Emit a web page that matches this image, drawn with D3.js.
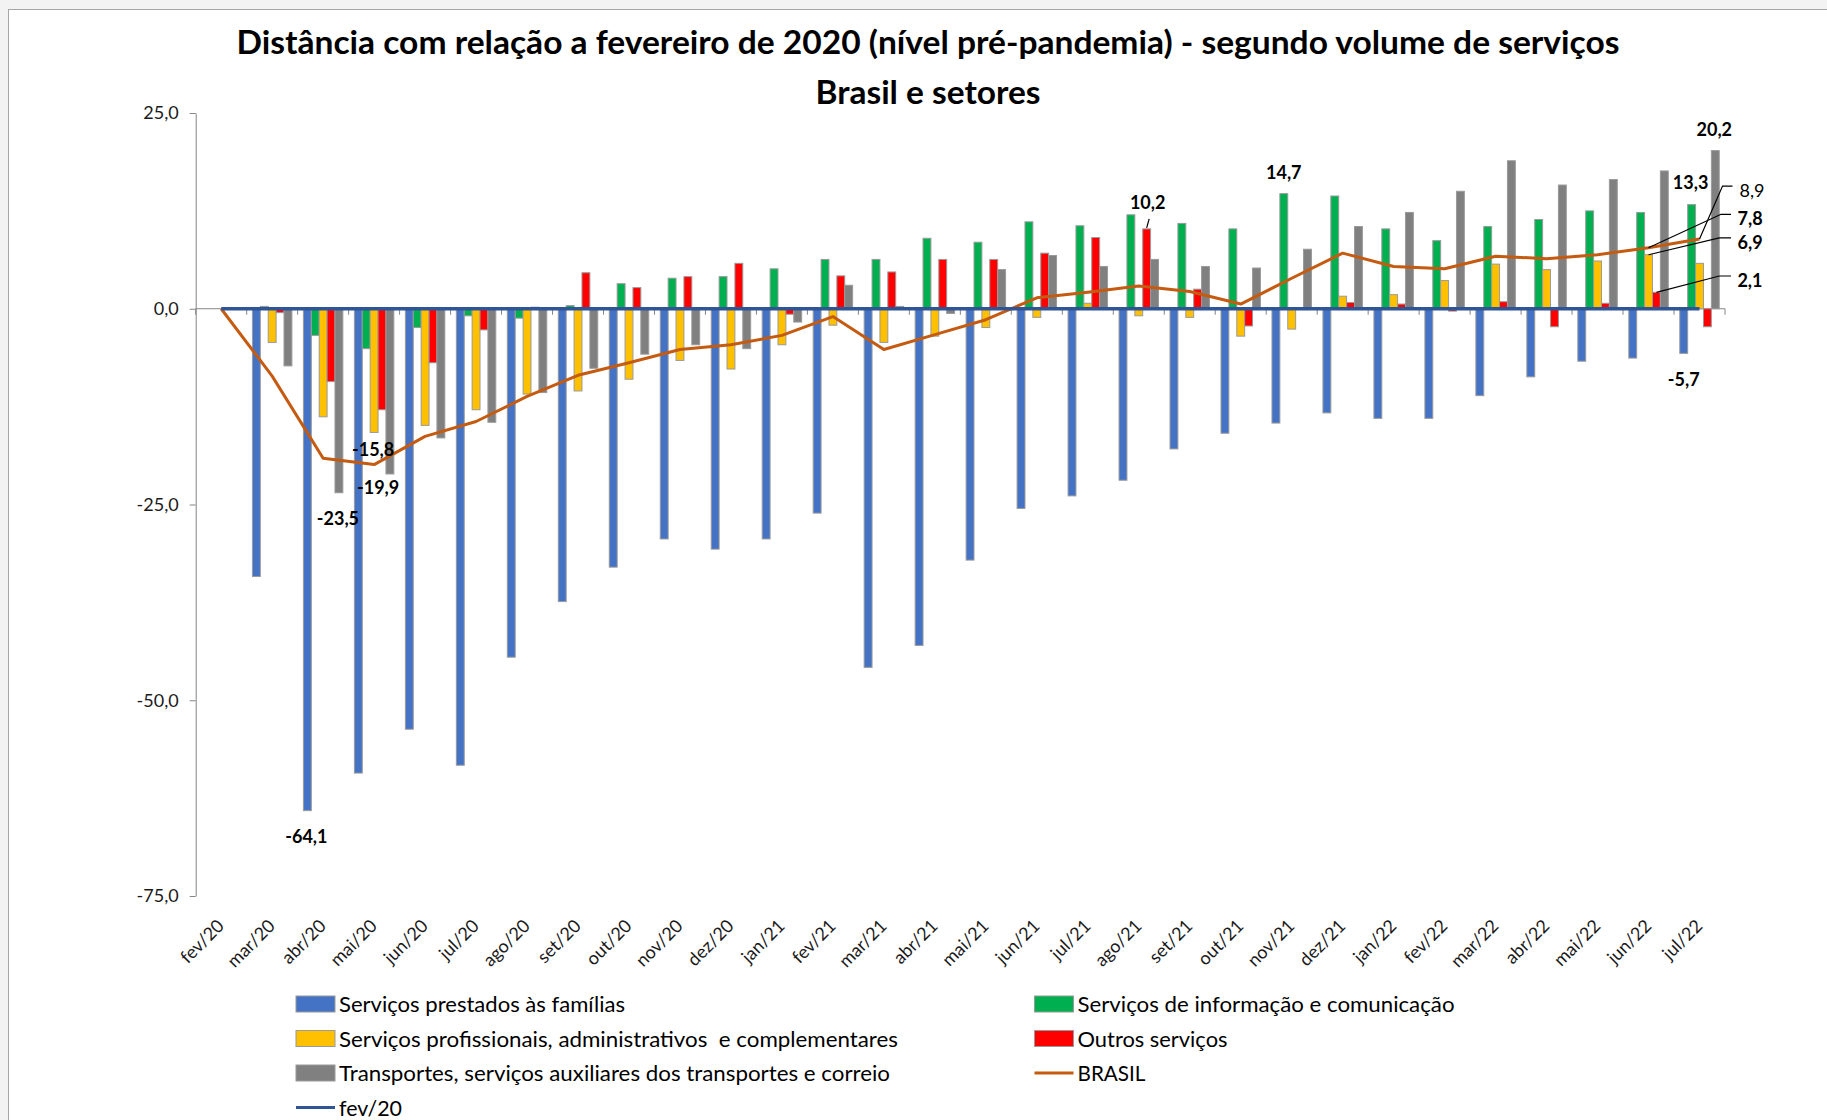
<!DOCTYPE html>
<html>
<head>
<meta charset="utf-8">
<script src="https://cdn.jsdelivr.net/npm/d3@7"></script>
<style>
  body { margin: 0; background: #fff; }
  text { font-family: Lato, "Open Sans", sans-serif; }
</style>
</head>
<body>
<div id="chart"></div>
<script>
// Data
var months = ["fev/20", "mar/20", "abr/20", "mai/20", "jun/20", "jul/20", "ago/20", "set/20", "out/20", "nov/20",
  "dez/20", "jan/21", "fev/21", "mar/21", "abr/21", "mai/21", "jun/21", "jul/21", "ago/21", "set/21",
  "out/21", "nov/21", "dez/21", "jan/22", "fev/22", "mar/22", "abr/22", "mai/22", "jun/22", "jul/22"];

var familias = [0, -34.2, -64.1, -59.3, -53.7, -58.3, -44.5, -37.4, -33.0, -29.4,
  -30.7, -29.4, -26.1, -45.8, -43.0, -32.1, -25.5, -23.9, -21.9, -17.9,
  -15.9, -14.6, -13.3, -14.0, -14.0, -11.1, -8.7, -6.7, -6.3, -5.7];

var informacao = [0, 0.3, -3.4, -5.1, -2.4, -0.9, -1.2, 0.4, 3.2, 3.9,
  4.1, 5.1, 6.3, 6.3, 9.0, 8.5, 11.1, 10.6, 12.0, 10.9,
  10.2, 14.7, 14.4, 10.2, 8.7, 10.5, 11.4, 12.5, 12.3, 13.3];

var profissionais = [0, -4.3, -13.8, -15.8, -14.9, -12.9, -10.9, -10.5, -9.0, -6.6,
  -7.7, -4.6, -2.1, -4.3, -3.5, -2.4, -1.1, 0.7, -0.9, -1.1,
  -3.5, -2.6, 1.6, 1.8, 3.6, 5.7, 5.0, 6.1, 6.9, 5.8];

var outros = [0, -0.5, -9.3, -12.9, -6.9, -2.7, 0.2, 4.6, 2.7, 4.1,
  5.8, -0.7, 4.2, 4.7, 6.3, 6.3, 7.1, 9.1, 10.2, 2.5,
  -2.2, 0.1, 0.8, 0.6, -0.3, 0.9, -2.3, 0.7, 2.1, -2.3];

var transportes = [0, -7.3, -23.5, -21.1, -16.5, -14.5, -10.7, -7.6, -5.8, -4.6,
  -5.1, -1.7, 3.0, 0.3, -0.6, 5.0, 6.8, 5.4, 6.3, 5.4,
  5.2, 7.6, 10.5, 12.3, 15.0, 18.9, 15.8, 16.5, 17.6, 20.2];

var brasil = [0, -8.6, -19.1, -19.9, -16.3, -14.4, -11.2, -8.5, -6.9, -5.2,
  -4.6, -3.4, -1.0, -5.2, -3.3, -1.4, 1.4, 2.1, 2.9, 2.2,
  0.6, 3.9, 7.1, 5.4, 5.1, 6.7, 6.4, 6.9, 7.8, 8.9];

var fev20 = [0, 0, 0, 0, 0, 0, 0, 0, 0, 0,
  0, 0, 0, 0, 0, 0, 0, 0, 0, 0,
  0, 0, 0, 0, 0, 0, 0, 0, 0, 0];

var yTicks = [25, 0, -25, -50, -75];

var barSeries = [
  { key: "familias", name: "Serviços prestados às famílias", color: "#4472C4", values: familias },
  { key: "informacao", name: "Serviços de informação e comunicação", color: "#00B050", values: informacao },
  { key: "profissionais", name: "Serviços profissionais, administrativos  e complementares", color: "#FFC000", values: profissionais },
  { key: "outros", name: "Outros serviços", color: "#FF0000", values: outros },
  { key: "transportes", name: "Transportes, serviços auxiliares dos transportes e correio", color: "#808080", values: transportes }
];

var lineSeries = [
  { key: "brasil", name: "BRASIL", color: "#C55A11", width: 3, values: brasil },
  { key: "fev20", name: "fev/20", color: "#2F5597", width: 3.5, values: fev20 }
];

var width = 1827;
var height = 1120;

var plotLeft = 195.7;
var plotRight = 1725;
var yTop = 113;
var yBottom = 896;

var ptBR = d3.formatLocale({ decimal: ",", thousands: ".", grouping: [3], currency: ["R$", ""], minus: "-" });
var fmt = ptBR.format(".1f");

var svg = d3.select("#chart").append("svg")
  .attr("width", width)
  .attr("height", height);

// chart frame
svg.append("rect").attr("width", width).attr("height", height).attr("fill", "#f3f3f3");
svg.append("rect")
  .attr("x", 8.5).attr("y", 9.5)
  .attr("width", width).attr("height", height)
  .attr("fill", "#fff")
  .attr("stroke", "#a6a6a6");

// title
svg.append("text")
  .attr("x", 928).attr("y", 54)
  .attr("text-anchor", "middle")
  .attr("font-size", 33).attr("font-weight", "bold")
  .attr("textLength", 1383).attr("lengthAdjust", "spacingAndGlyphs")
  .text("Distância com relação a fevereiro de 2020 (nível pré-pandemia) - segundo volume de serviços");
svg.append("text")
  .attr("x", 928).attr("y", 104)
  .attr("text-anchor", "middle")
  .attr("font-size", 33).attr("font-weight", "bold")
  .attr("textLength", 225).attr("lengthAdjust", "spacingAndGlyphs")
  .text("Brasil e setores");

// scales
var x0 = d3.scaleBand().domain(months).range([plotLeft, plotRight]);
var x1 = d3.scaleBand()
  .domain(barSeries.map(function (s) { return s.key; }))
  .range([0, x0.bandwidth()])
  .paddingOuter(0.73);
var y = d3.scaleLinear().domain([-75, 25]).range([yBottom, yTop]);

function center(m) {
  return x0(m) + x0.bandwidth() / 2;
}

// y axis
var yAxis = d3.axisLeft(y)
  .tickValues(yTicks)
  .tickSize(6)
  .tickSizeOuter(0)
  .tickPadding(11)
  .tickFormat(fmt);

var yG = svg.append("g")
  .attr("transform", "translate(" + plotLeft + ",0)")
  .call(yAxis);
yG.select(".domain").attr("stroke", "#868686");
yG.selectAll(".tick line").attr("stroke", "#868686");
yG.selectAll(".tick text")
  .attr("font-family", "Lato, sans-serif")
  .attr("font-size", 18)
  .attr("fill", "#1a1a1a");

// category axis at zero
var y0 = y(0);
svg.append("line")
  .attr("x1", plotLeft).attr("x2", plotRight)
  .attr("y1", y0).attr("y2", y0)
  .attr("stroke", "#868686");
svg.append("g").selectAll("line")
  .data(months.concat(["end"]))
  .enter().append("line")
  .attr("x1", function (m) { return m === "end" ? plotRight : x0(m); })
  .attr("x2", function (m) { return m === "end" ? plotRight : x0(m); })
  .attr("y1", y0).attr("y2", y0 + 6)
  .attr("stroke", "#868686");

svg.append("g").selectAll("text")
  .data(months)
  .enter().append("text")
  .attr("transform", function (m) { return "translate(" + (center(m) + 4) + ",927)rotate(-45)"; })
  .attr("text-anchor", "end")
  .attr("font-size", 18)
  .attr("fill", "#1a1a1a")
  .text(function (m) { return m; });

// bars
barSeries.forEach(function (s) {
  svg.append("g").selectAll("rect")
    .data(s.values)
    .enter().append("rect")
    .attr("x", function (d, i) { return x0(months[i]) + x1(s.key); })
    .attr("width", x1.bandwidth())
    .attr("y", function (d) { return Math.min(y(d), y0); })
    .attr("height", function (d) { return Math.abs(y(d) - y0); })
    .attr("fill", s.color)
    .attr("stroke", "#9a9a9a")
    .attr("stroke-width", 1);
});

// lines
var line = d3.line()
  .x(function (d, i) { return center(months[i]); })
  .y(function (d) { return y(d); });

lineSeries.forEach(function (s) {
  svg.append("path")
    .datum(s.values)
    .attr("d", line)
    .attr("fill", "none")
    .attr("stroke", s.color)
    .attr("stroke-width", s.width)
    .attr("stroke-linejoin", "round");
});

// data labels
var allSeries = {};
barSeries.forEach(function (s) { allSeries[s.key] = s; });
lineSeries.forEach(function (s) { allSeries[s.key] = s; });

var labelNotes = [
  { series: "familias", month: "abr/20", dx: -1, dy: 25 },
  { series: "transportes", month: "abr/20", dx: -1, dy: 25 },
  { series: "profissionais", month: "mai/20", dx: -1, dy: 17 },
  { series: "brasil", month: "mai/20", dx: 4, dy: 22 },
  { series: "outros", month: "ago/21", dx: 1, dy: -27, leader: [[0, -1], [2.5, -10]] },
  { series: "informacao", month: "nov/21", dx: 0, dy: -22 },
  { series: "transportes", month: "jul/22", dx: -1, dy: -22 },
  { series: "informacao", month: "jul/22", dx: -1, dy: -23 },
  { series: "familias", month: "jul/22", dx: 0, dy: 26 },
  { series: "brasil", month: "jul/22", dx: 40, dy: -49.5, start: true, regular: true, leader: [[0, 0], [23, -53], [33, -53]] },
  { series: "brasil", month: "jun/22", dx: 89, dy: -29.4, start: true, leader: [[0, 0], [72.5, -33.4], [82.5, -33.4]] },
  { series: "profissionais", month: "jun/22", dx: 89, dy: -13.2, start: true, leader: [[0, 0], [70.8, -16.8], [82.5, -16.8]] },
  { series: "outros", month: "jun/22", dx: 81, dy: -12.7, start: true, leader: [[0, 0], [62.9, -16.3], [74.6, -16.3]] }
];

var notes = svg.append("g");
labelNotes.forEach(function (n) {
  var s = allSeries[n.series];
  var i = months.indexOf(n.month);
  var v = s.values[i];
  var ax = x1.domain().indexOf(n.series) >= 0
    ? x0(n.month) + x1(n.series) + x1.bandwidth() / 2
    : center(n.month);
  var ay = y(v);

  if (n.leader) {
    notes.append("path")
      .attr("d", d3.line()(n.leader.map(function (p) { return [ax + p[0], ay + p[1]]; })))
      .attr("fill", "none")
      .attr("stroke", "#000")
      .attr("stroke-width", 1.2);
  }

  notes.append("text")
    .attr("x", ax + n.dx)
    .attr("y", ay + n.dy)
    .attr("text-anchor", n.start ? "start" : "middle")
    .attr("dominant-baseline", "central")
    .attr("font-size", 18)
    .attr("font-weight", n.regular ? "normal" : "bold")
    .attr("fill", "#000")
    .text(fmt(v));
});

// legend
var legendItems = [
  { key: "familias", col: 0, row: 0, w: 286 },
  { key: "informacao", col: 1, row: 0, w: 377 },
  { key: "profissionais", col: 0, row: 1, w: 559 },
  { key: "outros", col: 1, row: 1, w: 150 },
  { key: "transportes", col: 0, row: 2, w: 551 },
  { key: "brasil", col: 1, row: 2, w: 68 },
  { key: "fev20", col: 0, row: 3, w: 63 }
];
var legendCols = [296, 1034.5];

var legend = svg.append("g");
legendItems.forEach(function (it) {
  var s = allSeries[it.key];
  var lx = legendCols[it.col];
  var ly = 1004 + it.row * 34.5;
  if (s.width) {
    legend.append("line")
      .attr("x1", lx).attr("x2", lx + 39)
      .attr("y1", ly).attr("y2", ly)
      .attr("stroke", s.color)
      .attr("stroke-width", 3);
  } else {
    legend.append("rect")
      .attr("x", lx).attr("y", ly - 8)
      .attr("width", 39).attr("height", 16)
      .attr("fill", s.color)
      .attr("stroke", "#9a9a9a");
  }
  legend.append("text")
    .attr("x", lx + 43)
    .attr("y", ly + 8)
    .attr("font-size", 22)
    .attr("fill", "#000")
    .attr("textLength", it.w)
    .attr("lengthAdjust", "spacingAndGlyphs")
    .style("white-space", "pre")
    .text(s.name);
});
</script>
</body>
</html>
